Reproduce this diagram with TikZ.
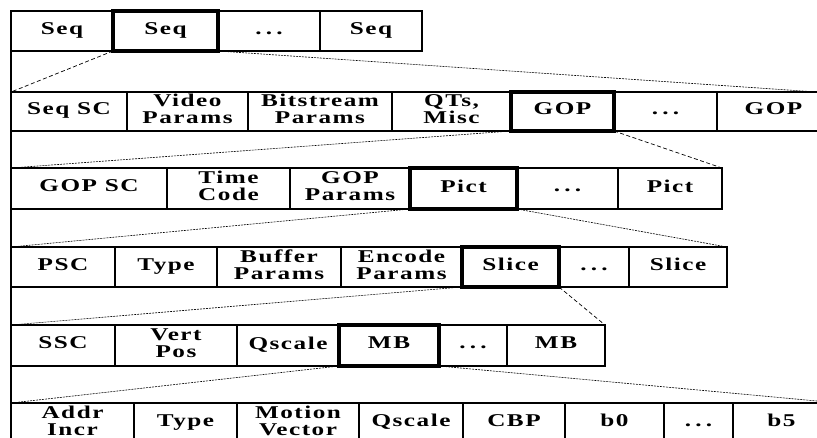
\documentclass[tikz,border=0pt]{standalone}
\usepackage{fontspec}
\usepackage{graphicx}
\newfontfamily\cellff{Liberation Serif Bold}[LetterSpace=6]
\newcommand{\cellfont}{\cellff\fontsize{18}{17}\selectfont}
% widened label, one or more lines
\newcommand{\wl}[1]{\scalebox{1.4}[1]{\begin{tabular}{@{}c@{}}#1\end{tabular}}}
\newcommand{\more}{\wl{.\,.\,.}}
\tikzset{
  cell/.style={draw, line width=1.1pt, anchor=north west, outer sep=0pt,
    inner sep=0pt, align=center, font=\cellfont, minimum height=40pt},
  key/.style={cell, line width=4pt},
  link/.style={line width=0.6pt, dash pattern=on 2pt off 1pt},
  linkd/.style={line width=0.7pt, dash pattern=on 4pt off 2.5pt}
}
\begin{document}
\begin{tikzpicture}[x=1pt,y=-1pt]
\useasboundingbox (0,0) rectangle (817,437);
\clip (0,0) rectangle (817,437);

% sequence layer
\node[cell,minimum width=102pt] (s1) at (11,11) {\wl{Seq}};
\node[cell,minimum width=102pt] (s3) at (218,11) {\more};
\node[cell,minimum width=102pt] (s4) at (320,11) {\wl{Seq}};
\node[key,minimum width=105pt] (s2) at (113,11) {\wl{Seq}};

% sequence contents
\node[cell,minimum width=116pt,minimum height=39pt] (q1) at (11,92) {\wl{Seq SC}};
\node[cell,minimum width=121pt,minimum height=39pt] (q2) at (127,92) {\wl{Video\\Params}};
\node[cell,minimum width=144pt,minimum height=39pt] (q3) at (248,92) {\wl{Bitstream\\Params}};
\node[cell,minimum width=119pt,minimum height=39pt] (q4) at (392,92) {\wl{QTs,\\Misc}};
\node[cell,minimum width=103pt,minimum height=39pt] (q6) at (614,92) {\more};
\node[cell,minimum width=113pt,minimum height=39pt] (q7) at (717,92) {\wl{GOP}};
\node[key,minimum width=103pt,minimum height=39pt] (q5) at (511,92) {\wl{GOP}};

% group of pictures
\node[cell,minimum width=156pt,minimum height=41pt] (g1) at (11,168) {\wl{GOP SC}};
\node[cell,minimum width=123pt,minimum height=41pt] (g2) at (167,168) {\wl{Time\\Code}};
\node[cell,minimum width=120pt,minimum height=41pt] (g3) at (290,168) {\wl{GOP\\Params}};
\node[cell,minimum width=101pt,minimum height=41pt] (g5) at (517,168) {\more};
\node[cell,minimum width=104pt,minimum height=41pt] (g6) at (618,168) {\wl{Pict}};
\node[key,minimum width=107pt,minimum height=41pt] (g4) at (410,168) {\wl{Pict}};

% picture
\node[cell,minimum width=104pt] (p1) at (11,247) {\wl{PSC}};
\node[cell,minimum width=102pt] (p2) at (115,247) {\wl{Type}};
\node[cell,minimum width=124pt] (p3) at (217,247) {\wl{Buffer\\Params}};
\node[cell,minimum width=121pt] (p4) at (341,247) {\wl{Encode\\Params}};
\node[cell,minimum width=70pt] (p6) at (559,247) {\more};
\node[cell,minimum width=98pt] (p7) at (629,247) {\wl{Slice}};
\node[key,minimum width=97pt] (p5) at (462,247) {\wl{Slice}};

% slice
\node[cell,minimum width=104pt,minimum height=41pt] (l1) at (11,325) {\wl{SSC}};
\node[cell,minimum width=122pt,minimum height=41pt] (l2) at (115,325) {\wl{Vert\\Pos}};
\node[cell,minimum width=102pt,minimum height=41pt] (l3) at (237,325) {\wl{Qscale}};
\node[cell,minimum width=68pt,minimum height=41pt] (l5) at (439,325) {\more};
\node[cell,minimum width=98pt,minimum height=41pt] (l6) at (507,325) {\wl{MB}};
\node[key,minimum width=100pt,minimum height=41pt] (l4) at (339,325) {\wl{MB}};

% macroblock
\node[cell,minimum width=123pt] (m1) at (11,403) {\wl{Addr\\Incr}};
\node[cell,minimum width=103pt] (m2) at (134,403) {\wl{Type}};
\node[cell,minimum width=122pt] (m3) at (237,403) {\wl{Motion\\Vector}};
\node[cell,minimum width=104pt] (m4) at (359,403) {\wl{Qscale}};
\node[cell,minimum width=102pt] (m5) at (463,403) {\wl{CBP}};
\node[cell,minimum width=99pt] (m6) at (565,403) {\wl{b0}};
\node[cell,minimum width=69pt] (m7) at (664,403) {\more};
\node[cell,minimum width=97pt] (m8) at (733,403) {\wl{b5}};

% left rule
\draw[line width=2.5pt] (s1.north west) -- (m1.south west);

% expansion lines
\coordinate (e1) at (817,92);
\coordinate (e6) at (817,401);
\draw[linkd] (s2.south west) -- (q1.north west);
\draw[link]  (s2.south east) -- (e1);
\draw[link]  (q5.south west) -- (g1.north west);
\draw[linkd] (q5.south east) -- (g6.north east);
\draw[link]  (g4.south west) -- (p1.north west);
\draw[link]  (g4.south east) -- (p7.north east);
\draw[link]  (p5.south west) -- (l1.north west);
\draw[linkd] (p5.south east) -- (l6.north east);
\draw[link]  (l4.south west) -- (m1.north west);
\draw[link]  (l4.south east) -- (e6);
\end{tikzpicture}
\end{document}
